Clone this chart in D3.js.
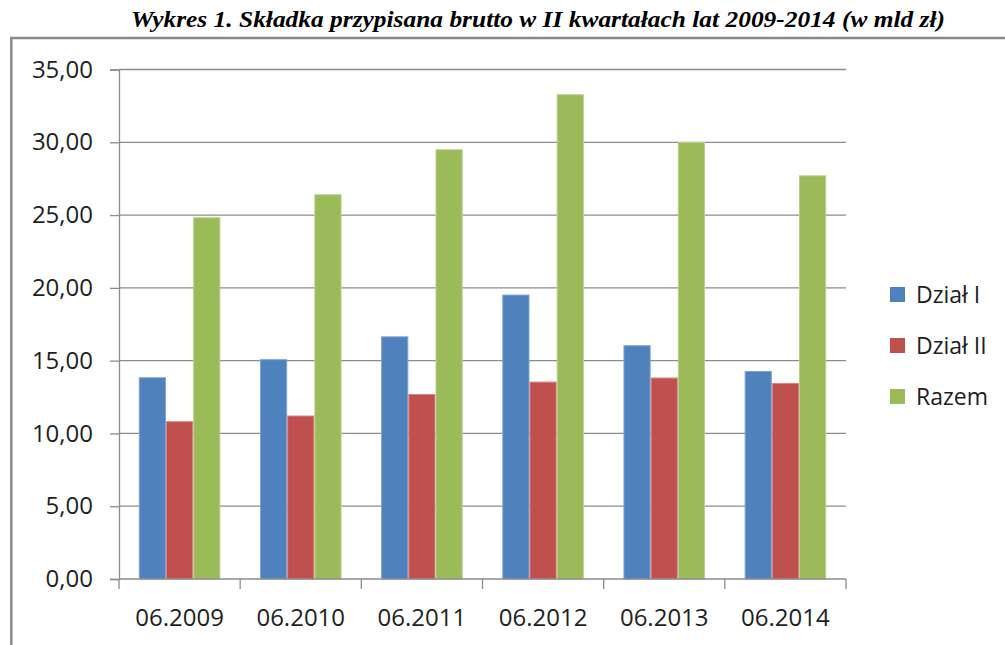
<!DOCTYPE html>
<html>
<head>
<meta charset="utf-8">
<script src="https://cdn.jsdelivr.net/npm/d3@7"></script>
<style>
  html, body { margin: 0; padding: 0; background: #fff; }
  svg { display: block; }
</style>
</head>
<body>
<svg id="chart" width="1005" height="645"></svg>
<script>
const title = "Wykres 1. Składka przypisana brutto w II kwartałach lat 2009-2014 (w mld zł)";
const categories = ["06.2009", "06.2010", "06.2011", "06.2012", "06.2013", "06.2014"];
const seriesNames = ["Dział I", "Dział II", "Razem"];
const dzialI  = [13.86, 15.10, 16.67, 19.54, 16.06, 14.29];
const dzialII = [10.84, 11.23, 12.71, 13.56, 13.84, 13.47];
const razem   = [24.85, 26.43, 29.52, 33.30, 30.02, 27.73];
const yTicks  = [0, 5, 10, 15, 20, 25, 30, 35];
const colors  = ["#4F81BD", "#C0504D", "#9BBB59"];
const strokes = ["#7FA3D0", "#D48482", "#B9D08D"];

const series = [dzialI, dzialII, razem];
const svg = d3.select("#chart");

// outer frame
svg.append("path")
  .attr("d", "M11.3,645 L11.3,38 L1005,38")
  .attr("fill", "none").attr("stroke", "#8a8a8a").attr("stroke-width", 2.5);

// title
svg.append("text")
  .attr("x", 538).attr("y", 27)
  .attr("text-anchor", "middle")
  .attr("font-family", "'Liberation Serif', 'Times New Roman', serif")
  .attr("font-weight", "bold").attr("font-style", "italic")
  .attr("font-size", 24)
  .attr("textLength", 814).attr("lengthAdjust", "spacingAndGlyphs")
  .attr("fill", "#000")
  .text(title);

const pL = 119, pR = 846, pT = 69.5, pB = 579;

const x0 = d3.scaleBand().domain(categories).range([pL, pR]).paddingInner(0).paddingOuter(0);
const x1 = d3.scaleBand().domain(seriesNames)
  .range([0, x0.bandwidth()]).paddingInner(0).paddingOuter(0.728);
const y = d3.scaleLinear().domain([0, 35]).range([pB, pT]);

const fmt = v => d3.format(".2f")(v).replace(".", ",");
const font = "'Open Sans', 'Noto Sans', sans-serif";

// gridlines
svg.append("g").selectAll("line").data(yTicks.filter(d => d > 0)).join("line")
  .attr("x1", pL).attr("x2", pR)
  .attr("y1", d => y(d)).attr("y2", d => y(d))
  .attr("stroke", "#8c8c8c").attr("stroke-width", 1.3);

// y axis
const yAxis = svg.append("g").attr("transform", `translate(${pL},0)`)
  .call(d3.axisLeft(y).tickValues(yTicks).tickFormat(fmt).tickSize(9).tickPadding(17));
yAxis.select(".domain").attr("stroke", "#8c8c8c").attr("stroke-width", 1.3);
yAxis.selectAll(".tick line").attr("stroke", "#8c8c8c").attr("stroke-width", 1.3);
yAxis.selectAll(".tick text")
  .attr("font-family", font).attr("font-size", 24).attr("fill", "#1e1e1e");

// bars
const groups = svg.append("g").selectAll("g").data(categories).join("g")
  .attr("transform", d => `translate(${x0(d)},0)`);
groups.selectAll("rect")
  .data((c, i) => seriesNames.map((s, j) => ({ s, j, v: series[j][i] })))
  .join("rect")
  .attr("x", d => x1(d.s) + 0.5)
  .attr("width", x1.bandwidth() - 1)
  .attr("y", d => y(d.v) + 0.5)
  .attr("height", d => y(0) - y(d.v) - 0.5)
  .attr("fill", d => colors[d.j])
  .attr("stroke", d => strokes[d.j]).attr("stroke-width", 1);

// x axis
const xAxisG = svg.append("g").attr("transform", `translate(0,${pB})`);
xAxisG.append("line").attr("x1", pL).attr("x2", pR)
  .attr("stroke", "#8c8c8c").attr("stroke-width", 1.5);
const bounds = categories.map(c => x0(c)).concat([pR]);
xAxisG.selectAll("line.tk").data(bounds).join("line").attr("class", "tk")
  .attr("x1", d => d).attr("x2", d => d).attr("y1", 0).attr("y2", 10)
  .attr("stroke", "#8c8c8c").attr("stroke-width", 1.3);
xAxisG.selectAll("text").data(categories).join("text")
  .attr("x", d => x0(d) + x0.bandwidth() / 2).attr("y", 47)
  .attr("text-anchor", "middle")
  .attr("font-family", font).attr("font-size", 24).attr("fill", "#1e1e1e")
  .text(d => d);

// legend
const legend = svg.append("g").attr("transform", "translate(890,0)");
const lg = legend.selectAll("g").data(seriesNames).join("g")
  .attr("transform", (d, i) => `translate(0,${294 + i * 51})`);
lg.append("rect").attr("x", 0).attr("y", -7).attr("width", 15).attr("height", 15)
  .attr("fill", (d, i) => colors[i]);
lg.append("text").attr("x", 26).attr("y", 9)
  .attr("font-family", font).attr("font-size", 23).attr("fill", "#1e1e1e")
  .text(d => d);
</script>
</body>
</html>
